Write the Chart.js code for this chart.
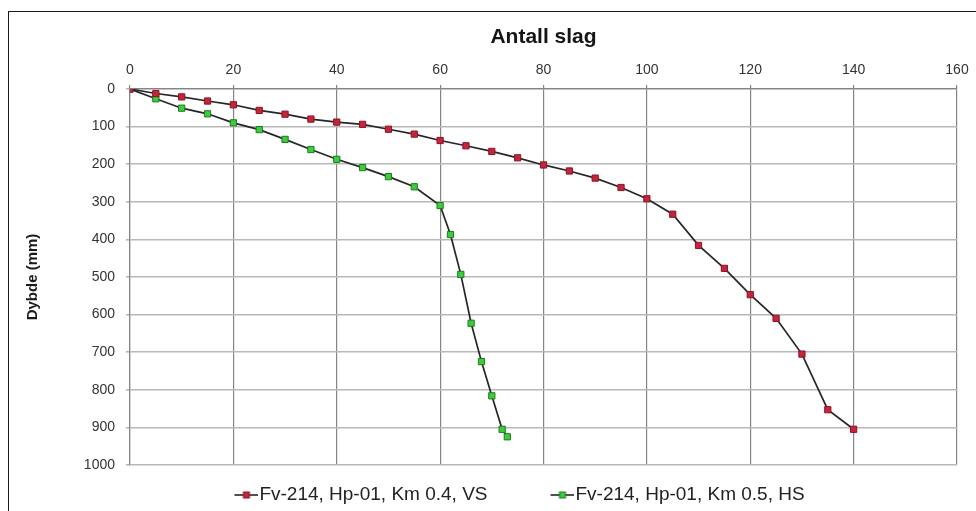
<!DOCTYPE html>
<html>
<head>
<meta charset="utf-8">
<script src="https://cdn.jsdelivr.net/npm/chart.js@4.4.0/dist/chart.umd.min.js"></script>
<style>
  html, body { margin: 0; padding: 0; background: #ffffff; }
  #wrap { position: relative; width: 976px; height: 511px; overflow: hidden; }
  #frame { position: absolute; left: 8px; top: 11px; width: 1200px; height: 800px;
           border-left: 1.5px solid #1a1a1a; border-top: 1.5px solid #1a1a1a; }
  #c { position: absolute; left: 0; top: 0; }
</style>
</head>
<body>
<div id="wrap">
  <div id="frame"></div>
  <canvas id="c" width="976" height="511"></canvas>
</div>
<script>
// ---- data ----
const chartTitle = "Antall slag";
const yAxisTitle = "Dybde (mm)";
const seriesNames = ["Fv-214, Hp-01, Km 0.4, VS", "Fv-214, Hp-01, Km 0.5, HS"];

const vsSlag  = [0, 5, 10, 15, 20, 25, 30, 35, 40, 45, 50, 55, 60, 65, 70, 75, 80, 85, 90, 95, 100, 105, 110, 115, 120, 125, 130, 135, 140];
const vsDybde = [0, 12, 21, 32, 42, 57, 67, 80, 88, 94, 107, 120, 137, 151, 166, 183, 202, 218, 237, 262, 292, 333, 416, 477, 547, 610, 705, 853, 905];

const hsSlag  = [0, 5, 10, 15, 20, 25, 30, 35, 40, 45, 50, 55, 60, 62, 64, 66, 68, 70, 72, 73];
const hsDybde = [0, 26, 51, 66, 90, 108, 134, 161, 187, 209, 233, 260, 310, 387, 493, 623, 725, 816, 905, 925];

const xTicksMin = 0, xTicksMax = 160, xStep = 20;
const yTicksMin = 0, yTicksMax = 1000, yStep = 100;

// ---- styling ----
const FONT = "'Liberation Sans', Arial, Helvetica, sans-serif";
const redFill = '#c4243c', redEdge = '#8a1526';
const greenFill = '#3ccc3c', greenEdge = '#1d7a1d';
const lineCol = '#262626';

function toPoints(xs, ys) { return xs.map((x, i) => ({ x: x, y: ys[i] })); }

const LEG_BOX = 58;
function legendMarker(fill, edge) {
  const c = document.createElement('canvas');
  c.width = LEG_BOX + 17; c.height = 10;
  const g = c.getContext('2d');
  const x0 = LEG_BOX - 7, x1 = LEG_BOX + 17;
  g.strokeStyle = lineCol; g.lineWidth = 1.6;
  g.beginPath(); g.moveTo(x0, 5); g.lineTo(x1, 5); g.stroke();
  const cx = (x0 + x1) / 2;
  g.fillStyle = fill; g.fillRect(cx - 3, 2, 6, 6);
  g.strokeStyle = edge; g.lineWidth = 1; g.strokeRect(cx - 3, 2, 6, 6);
  return c;
}
const legendMarkers = [legendMarker(redFill, redEdge), legendMarker(greenFill, greenEdge)];

new Chart(document.getElementById('c'), {
  type: 'scatter',
  data: {
    datasets: [
      {
        label: seriesNames[0],
        data: toPoints(vsSlag, vsDybde),
        showLine: true,
        borderColor: lineCol,
        borderWidth: 1.7,
        pointStyle: 'rect',
        pointRadius: 4.4,
        pointBackgroundColor: redFill,
        pointBorderColor: redEdge,
        pointBorderWidth: 1,
        tension: 0
      },
      {
        label: seriesNames[1],
        data: toPoints(hsSlag, hsDybde),
        showLine: true,
        borderColor: lineCol,
        borderWidth: 1.7,
        pointStyle: 'rect',
        pointRadius: 4.4,
        pointBackgroundColor: greenFill,
        pointBorderColor: greenEdge,
        pointBorderWidth: 1,
        tension: 0
      }
    ]
  },
  options: {
    responsive: false,
    animation: false,
    devicePixelRatio: 1,
    layout: { padding: { left: 39.5, right: 19, top: 0, bottom: -3.5 } },
    scales: {
      x: {
        type: 'linear',
        position: 'top',
        min: xTicksMin, max: xTicksMax,
        ticks: { stepSize: xStep, color: '#333333', padding: 6, font: { family: FONT, size: 14 },
                 callback: (v) => String(v) },
        grid: { color: '#858585', lineWidth: 1.2, tickLength: 4, drawTicks: true },
        border: { display: true, color: '#858585', width: 1.2 },
        afterFit: (s) => { s.height = 38.8; }
      },
      y: {
        type: 'linear',
        position: 'left',
        reverse: true,
        min: yTicksMin, max: yTicksMax,
        ticks: { stepSize: yStep, color: '#333333', padding: 11, font: { family: FONT, size: 14 },
                 callback: (v) => String(v) },
        grid: { color: '#b8b8b8', lineWidth: 1.6, tickLength: 4, drawTicks: true },
        border: { display: true, color: '#858585', width: 1.2 },
        title: {
          display: true,
          text: yAxisTitle,
          color: '#1a1a1a',
          font: { family: FONT, size: 15, weight: 'bold' },
          padding: { top: -15.5, bottom: 0 }
        },
        afterFit: (s) => { s.width = 90.5; }
      }
    },
    plugins: {
      title: {
        display: true,
        text: chartTitle,
        fullSize: false,
        color: '#151515',
        font: { family: FONT, size: 21, weight: 'bold' },
        padding: { top: 25, bottom: 0 }
      },
      legend: {
        display: true,
        position: 'bottom',
        labels: {
          color: '#222222',
          font: { family: FONT, size: 19 },
          usePointStyle: true,
          pointStyleWidth: LEG_BOX,
          padding: 20.5,
          generateLabels: (chart) => {
            const items = Chart.defaults.plugins.legend.labels.generateLabels(chart);
            items.forEach((it, i) => { it.pointStyle = legendMarkers[i]; });
            return items;
          }
        }
      },
      tooltip: { enabled: false }
    }
  }
});
</script>
</body>
</html>
